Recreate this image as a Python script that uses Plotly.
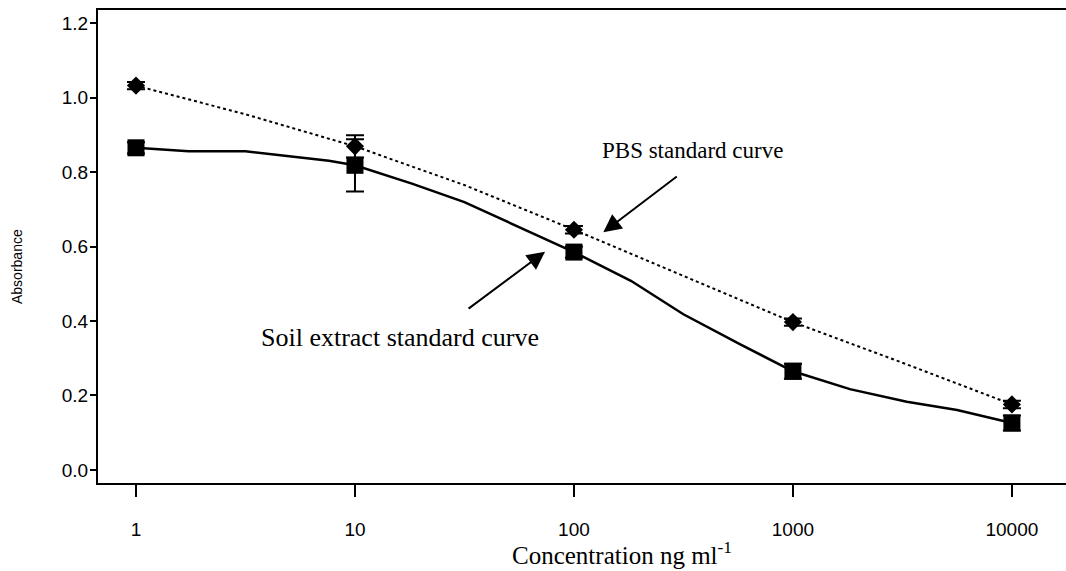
import plotly.graph_objects as go

# Standard concentrations (ng/ml)
conc = [1, 10, 100, 1000, 10000]

# Mean absorbance and error for each standard set
pbs_mean = [1.032, 0.869, 0.645, 0.397, 0.176]
pbs_err = [0.010, 0.030, 0.010, 0.010, 0.010]
soil_mean = [0.865, 0.818, 0.585, 0.265, 0.126]
soil_err = [0.015, 0.070, 0.015, 0.020, 0.020]

# Fitted standard curves
pbs_fit_conc = [1, 3.16, 10, 31.6, 100, 316, 1000, 3160, 10000]
pbs_fit_abs = [1.032, 0.955, 0.869, 0.765, 0.645, 0.522, 0.397, 0.288, 0.176]
soil_fit_conc = [1, 1.74, 3.16, 5.5, 7.6, 10, 18.2, 31.6, 57.5, 100,
                 182, 316, 575, 1000, 1820, 3310, 5620, 10000]
soil_fit_abs = [0.865, 0.856, 0.856, 0.839, 0.830, 0.818, 0.769, 0.719, 0.649, 0.585,
                0.508, 0.418, 0.337, 0.265, 0.217, 0.183, 0.161, 0.126]

tick_vals = [1, 10, 100, 1000, 10000]
tick_text = ["1", "10", "100", "1000", "10000"]
y_ticks = [0.0, 0.2, 0.4, 0.6, 0.8, 1.0, 1.2]

fig = go.Figure()

fig.add_trace(go.Scatter(
    x=pbs_fit_conc, y=pbs_fit_abs, mode="lines",
    line=dict(color="black", width=2, dash="dot"), showlegend=False, hoverinfo="skip"))
fig.add_trace(go.Scatter(
    x=soil_fit_conc, y=soil_fit_abs, mode="lines",
    line=dict(color="black", width=2.5), showlegend=False, hoverinfo="skip"))

fig.add_trace(go.Scatter(
    x=conc, y=pbs_mean, mode="markers", name="PBS",
    marker=dict(symbol="diamond", size=14, color="black"),
    error_y=dict(type="data", array=pbs_err, color="black", thickness=2, width=9),
    showlegend=False))
fig.add_trace(go.Scatter(
    x=conc, y=soil_mean, mode="markers", name="Soil extract",
    marker=dict(symbol="square", size=17, color="black"),
    error_y=dict(type="data", array=soil_err, color="black", thickness=2, width=9),
    showlegend=False))

serif = "Liberation Serif, Times New Roman, serif"
sans = "Liberation Sans, Arial, sans-serif"

annotations = [
    dict(x=2.134, y=0.638, xref="x", yref="y", ax=75, ay=-57, text="",
         showarrow=True, arrowhead=2, arrowsize=1.8, arrowwidth=2, arrowcolor="black"),
    dict(x=1.868, y=0.586, xref="x", yref="y", ax=-78, ay=58, text="",
         showarrow=True, arrowhead=2, arrowsize=1.8, arrowwidth=2, arrowcolor="black"),
    dict(x=2.543, y=0.859, xref="x", yref="y", text="PBS standard curve",
         showarrow=False, font=dict(family=serif, size=23, color="black")),
    dict(x=1.205, y=0.357, xref="x", yref="y", text="Soil extract standard curve",
         showarrow=False, font=dict(family=serif, size=26, color="black")),
    dict(x=622, y=553, text="Concentration ng ml<sup>-1</sup>",
         showarrow=False, font=dict(family=serif, size=25, color="black")),
    dict(x=17, y=267, text="Absorbance", textangle=-90, showarrow=False,
         font=dict(family=sans, size=14, color="black")),
]
# place the axis titles by pixel position, converted to paper coordinates
W, H = 1066, 571
L, R, T, B = 98, 0, 10, 88
pw, ph = W - L - R, H - T - B
for a in annotations[4:]:
    a["xref"] = "paper"
    a["yref"] = "paper"
    a["x"] = (a["x"] - L) / pw
    a["y"] = (H - B - a["y"]) / ph
    a["xanchor"] = "center"
    a["yanchor"] = "middle"

fig.update_layout(
    width=W, height=H,
    margin=dict(l=L, r=R, t=T, b=B),
    paper_bgcolor="white", plot_bgcolor="white",
    annotations=annotations,
    xaxis=dict(
        type="log", range=[-0.1735, 4.247],
        tickvals=tick_vals, ticktext=tick_text,
        ticks="outside", ticklen=12, tickwidth=2, tickcolor="black",
        ticklabelstandoff=16,
        showline=True, linecolor="black", linewidth=2, mirror=True,
        showgrid=False, zeroline=False,
        tickfont=dict(family=sans, size=19, color="black"),
    ),
    yaxis=dict(
        range=[-0.035, 1.235],
        tickvals=y_ticks, tickformat=".1f",
        ticks="outside", ticklen=6, tickwidth=2, tickcolor="black",
        ticklabelstandoff=-2,
        showline=True, linecolor="black", linewidth=2, mirror=False,
        showgrid=False, zeroline=False,
        tickfont=dict(family=sans, size=19, color="black"),
    ),
)

fig.write_html("out.html")
